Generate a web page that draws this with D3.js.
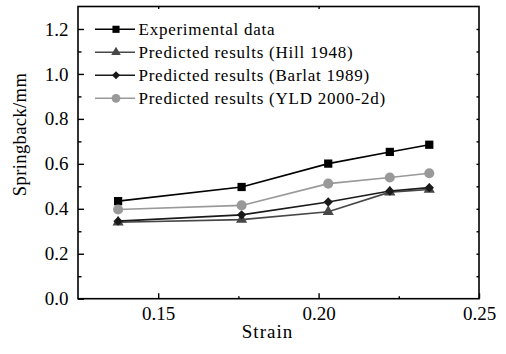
<!DOCTYPE html>
<html><head><meta charset="utf-8">
<script src="https://cdn.jsdelivr.net/npm/d3@7/dist/d3.min.js"></script>
<style>
html,body{margin:0;padding:0;background:#fff;}
svg{display:block;}
text{font-family:"Liberation Serif","Times New Roman",serif;fill:#000;}
</style></head>
<body><svg id="c" width="506" height="354"></svg>
<script>
const strain = [0.1375, 0.176, 0.203, 0.2222, 0.2345];
const experimental = [0.434, 0.497, 0.601, 0.653, 0.685];
const hill1948 = [0.340, 0.352, 0.387, 0.474, 0.486];
const barlat1989 = [0.345, 0.373, 0.430, 0.479, 0.494];
const yld2000 = [0.397, 0.415, 0.512, 0.539, 0.558];
const seriesNames = ["Experimental data", "Predicted results (Hill 1948)", "Predicted results (Barlat 1989)", "Predicted results (YLD 2000-2d)"];
const yTicks = [0.0, 0.2, 0.4, 0.6, 0.8, 1.0, 1.2];
const yMinor = [0.1, 0.3, 0.5, 0.7, 0.9, 1.1];
const xTicks = [0.15, 0.20, 0.25];
const xMinor = [0.175, 0.225];

const series = [
  {name: seriesNames[0], values: experimental, color: "#000", symbol: d3.symbolSquare, size: 68, rot: 0},
  {name: seriesNames[1], values: hill1948, color: "#474747", symbol: d3.symbolTriangle, size: 54, rot: 0},
  {name: seriesNames[2], values: barlat1989, color: "#1a1a1a", symbol: d3.symbolSquare, size: 44, rot: 45},
  {name: seriesNames[3], values: yld2000, color: "#999", symbol: d3.symbolCircle, size: 80, rot: 0}
];

const svg = d3.select("#c");
const L = 78, R = 479, T = 6.5, B = 298.7;
const x = d3.scaleLinear().domain([0.125, 0.25]).range([L, R]);
const y = d3.scaleLinear().domain([0, 1.3]).range([B, T]);
const fs = "19px";

// frame
svg.append("rect").attr("x", L).attr("y", T).attr("width", R - L).attr("height", B - T)
  .attr("fill", "none").attr("stroke", "#000").attr("stroke-width", 1.6);

// left axis
const ga = svg.append("g").attr("transform", `translate(${L},0)`)
  .call(d3.axisLeft(y).tickValues(yTicks).tickFormat(d3.format(".1f")).tickSize(-6).tickPadding(9.5));
ga.select(".domain").remove();
ga.selectAll("line").attr("stroke-width", 1.4);
ga.selectAll("text").style("font-size", fs).attr("font-family", null);
svg.append("g").attr("transform", `translate(${L},0)`)
  .call(d3.axisLeft(y).tickValues(yMinor).tickFormat("").tickSize(-3.5))
  .call(g => { g.select(".domain").remove(); g.selectAll("line").attr("stroke-width", 1.4); });

// right axis ticks
svg.append("g").attr("transform", `translate(${R},0)`)
  .call(d3.axisRight(y).tickValues(yTicks.concat(yMinor).filter(v => v > 0)).tickFormat("").tickSize(-2.5))
  .call(g => { g.select(".domain").remove(); g.selectAll("line").attr("stroke-width", 1.4); });

// bottom axis
const gb = svg.append("g").attr("transform", `translate(0,${B})`)
  .call(d3.axisBottom(x).tickValues(xTicks).tickFormat(d3.format(".2f")).tickSize(-5.5).tickPadding(8));
gb.select(".domain").remove();
gb.selectAll("line").attr("stroke-width", 1.4);
gb.selectAll("text").style("font-size", fs).attr("font-family", null);
svg.append("g").attr("transform", `translate(0,${B})`)
  .call(d3.axisBottom(x).tickValues(xMinor).tickFormat("").tickSize(-2.5))
  .call(g => { g.select(".domain").remove(); g.selectAll("line").attr("stroke-width", 1.4); });

// top axis ticks
svg.append("g").attr("transform", `translate(0,${T})`)
  .call(d3.axisTop(x).tickValues([0.15, 0.20]).tickFormat("").tickSize(-2.5))
  .call(g => { g.select(".domain").remove(); g.selectAll("line").attr("stroke-width", 1.4); });

// axis titles
svg.append("text").attr("x", 267.5).attr("y", 337.5).attr("text-anchor", "middle")
  .style("font-size", "19px").style("letter-spacing", "1px").text("Strain");
svg.append("text").attr("transform", `translate(25.5,134.5) rotate(-90)`).attr("text-anchor", "middle")
  .style("font-size", "18.5px").style("letter-spacing", "0.4px").text("Springback/mm");

// series
const line = d3.line().x((d, i) => x(strain[i])).y(d => y(d));
series.forEach(s => {
  svg.append("path").datum(s.values).attr("d", line)
    .attr("fill", "none").attr("stroke", s.color).attr("stroke-width", 1.6);
  svg.append("g").selectAll("path").data(s.values).join("path")
    .attr("transform", (d, i) => `translate(${x(strain[i])},${y(d)}) rotate(${s.rot})`)
    .attr("d", d3.symbol().type(s.symbol).size(s.size))
    .attr("fill", s.color);
});

// legend
const lg = svg.append("g");
series.forEach((s, i) => {
  const cy = 29.3 + i * 23;
  lg.append("line").attr("x1", 95).attr("x2", 135).attr("y1", cy).attr("y2", cy)
    .attr("stroke", s.color).attr("stroke-width", 1.6);
  lg.append("path").attr("transform", `translate(116,${cy}) rotate(${s.rot})`)
    .attr("d", d3.symbol().type(s.symbol).size(s.size * 0.75)).attr("fill", s.color);
  lg.append("text").attr("x", 138.5).attr("y", cy + 5.2)
    .style("font-size", "17px").style("letter-spacing", "0.75px").text(s.name);
});
</script></body></html>
